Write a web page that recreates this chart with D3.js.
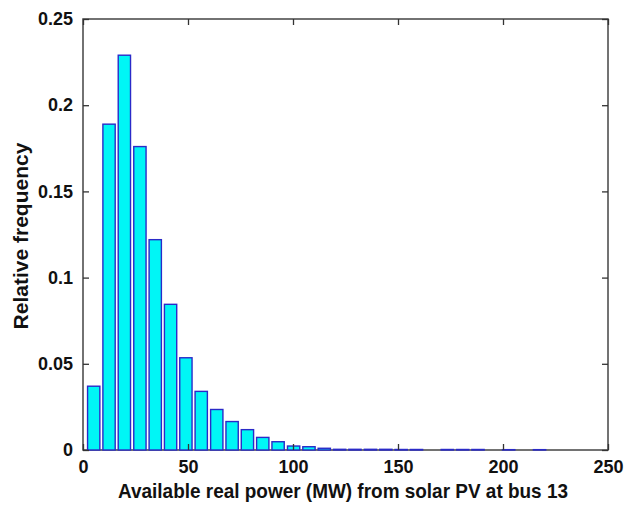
<!DOCTYPE html>
<html>
<head>
<meta charset="utf-8">
<script src="https://cdn.jsdelivr.net/npm/d3@7"></script>
<style>
  html, body { margin: 0; padding: 0; background: #fff; }
  svg { display: block; }
  text { font-family: "Liberation Sans", Arial, sans-serif; font-weight: bold; fill: #111; }
</style>
</head>
<body>
<svg id="chart" width="639" height="505"></svg>
<script>
// Histogram bin centres (MW) and relative frequency of each bin
const binCenters = [5.1, 12.4, 19.7, 27.1, 34.4, 41.7, 49.0, 56.3, 63.7, 71.0,
                    78.3, 85.6, 92.9, 100.3, 107.6, 114.9, 122.2, 129.5, 136.9, 144.2,
                    151.5, 158.8, 166.1, 173.5, 180.8, 188.1, 195.4, 202.7, 210.1, 217.4];
const relFreq = [0.037, 0.189, 0.229, 0.176, 0.122, 0.0845, 0.0535, 0.034, 0.0235, 0.0165,
                 0.0118, 0.0073, 0.0048, 0.0023, 0.0019, 0.001, 0.0004, 0.0004, 0.0004, 0.0004,
                 0.0003, 0.0003, 0, 0.0003, 0.0003, 0.0003, 0, 0.0002, 0, 0.0002];
const binWidth = 7.32;
const xTicks = [0, 50, 100, 150, 200, 250];
const yTicks = [0, 0.05, 0.1, 0.15, 0.2, 0.25];
const yTickLabels = ["0", "0.05", "0.1", "0.15", "0.2", "0.25"];
const xTitle = "Available real power (MW) from solar PV at bus 13";
const yTitle = "Relative frequency";

const svg = d3.select("#chart");
const plot = { left: 83, right: 608, top: 19, bottom: 450 };

const x = d3.scaleLinear().domain([0, 250]).range([plot.left, plot.right]);
const y = d3.scaleLinear().domain([0, 0.25]).range([plot.bottom, plot.top]);

const bins = binCenters.map((c, i) => ({ c, v: relFreq[i] })).filter(d => d.v > 0);
const barW = binWidth * 0.8;

// Axes box (behind the bars)
svg.append("rect")
  .attr("x", plot.left).attr("y", plot.top)
  .attr("width", plot.right - plot.left).attr("height", plot.bottom - plot.top)
  .attr("fill", "none").attr("stroke", "#444").attr("stroke-width", 1.5);

// Bars
svg.append("g").selectAll("rect").data(bins).join("rect")
  .attr("x", d => x(d.c - barW / 2))
  .attr("width", d => x(d.c + barW / 2) - x(d.c - barW / 2))
  .attr("y", d => y(d.v))
  .attr("height", d => y(0) - y(d.v))
  .attr("fill", "#00f6f6")
  .attr("stroke", "#2a2ac8")
  .attr("stroke-width", 1.4);

// Inward ticks on all four sides
const tickLen = 6;
const xAxisB = d3.axisBottom(x).tickValues(xTicks).tickSize(-tickLen).tickPadding(10).tickFormat(d3.format("d"));
const xAxisT = d3.axisTop(x).tickValues(xTicks).tickSize(-tickLen).tickFormat("");
const yAxisL = d3.axisLeft(y).tickValues(yTicks).tickSize(-tickLen).tickPadding(10)
  .tickFormat((d, i) => yTickLabels[i]);
const yAxisR = d3.axisRight(y).tickValues(yTicks).tickSize(-tickLen).tickFormat("");

function styleAxis(g) {
  g.select(".domain").remove();
  g.selectAll(".tick line").attr("stroke", "#333").attr("stroke-width", 1.3);
  g.selectAll(".tick text").style("font-size", "18px").attr("fill", "#111");
}

svg.append("g").attr("transform", `translate(0,${plot.bottom})`).call(xAxisB).call(styleAxis)
  .selectAll(".tick text").attr("dy", "0.71em");
svg.append("g").attr("transform", `translate(0,${plot.top})`).call(xAxisT).call(styleAxis);
svg.append("g").attr("transform", `translate(${plot.left},0)`).call(yAxisL).call(styleAxis);
svg.append("g").attr("transform", `translate(${plot.right},0)`).call(yAxisR).call(styleAxis);

// Axis titles
svg.append("text")
  .attr("x", 343).attr("y", 498)
  .attr("text-anchor", "middle")
  .attr("textLength", 450).attr("lengthAdjust", "spacingAndGlyphs")
  .style("font-size", "21px")
  .text(xTitle);

svg.append("text")
  .attr("transform", "translate(28,236) rotate(-90)")
  .attr("text-anchor", "middle")
  .style("font-size", "21px")
  .text(yTitle);
</script>
</body>
</html>
